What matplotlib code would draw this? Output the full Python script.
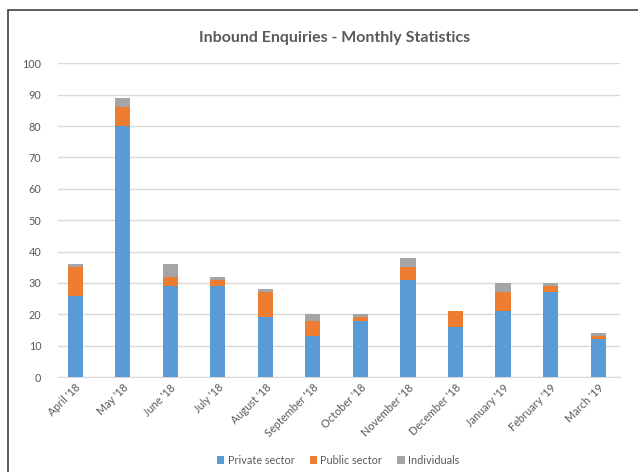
import matplotlib
matplotlib.use('Agg')
import matplotlib.pyplot as plt
from matplotlib.patches import Rectangle

plt.rcParams['font.family'] = ['Lato', 'DejaVu Sans']

months = ["April '18", "May '18", "June '18", "July '18", "August '18", "September '18",
          "October '18", "November '18", "December '18", "January '19", "February '19", "March '19"]
private = [26, 80, 29, 29, 19, 13, 18, 31, 16, 21, 27, 12]
public = [9, 6, 3, 2, 8, 5, 1, 4, 5, 6, 2, 1]
individuals = [1, 3, 4, 1, 1, 2, 1, 3, 0, 3, 1, 1]

blue = '#5B9BD5'
orange = '#ED7D31'
grey = '#A5A5A5'
txt = '#595959'

fig = plt.figure(figsize=(6.38, 4.72), dpi=100)
ax = fig.add_axes([0.0909, 0.201, 0.881, 0.665])

x = list(range(len(months)))
w = 0.32
base2 = [a + b for a, b in zip(private, public)]
ax.bar(x, private, w, color=blue, label='Private sector', zorder=3)
ax.bar(x, public, w, bottom=private, color=orange, label='Public sector', zorder=3)
ax.bar(x, individuals, w, bottom=base2, color=grey, label='Individuals', zorder=3)

ax.set_xlim(-0.36, len(months) - 0.54)
ax.set_ylim(0, 100)
ax.set_yticks(range(0, 101, 10))
ax.yaxis.grid(True, color='#D9D9D9', linewidth=1, zorder=0)
for s in ['top', 'right', 'left']:
    ax.spines[s].set_visible(False)
ax.spines['bottom'].set_color('#D9D9D9')
ax.tick_params(axis='both', length=0, colors=txt, labelsize=7.8)
ax.tick_params(axis='y', pad=12)
ax.set_xticks(x)
ax.set_xticklabels(months, rotation=45, ha='right', rotation_mode='anchor')

fig.text(0.525, 0.92, 'Inbound Enquiries - Monthly Statistics', ha='center', va='center',
         fontsize=11.5, fontweight='bold', color=txt)

ax.legend(loc='center', bbox_to_anchor=(0.53, 0.025), bbox_transform=fig.transFigure,
          ncol=3, frameon=False, fontsize=7.8, handlelength=0.7, handleheight=0.7,
          handletextpad=0.3, columnspacing=1.4, labelcolor=txt)

fig.patches.append(Rectangle((8 / 638, -0.1), 1.0, 1 - 10 / 472 + 0.1, transform=fig.transFigure,
                             fill=False, edgecolor='#404040', linewidth=1.2))

fig.savefig('out.png', dpi=100)
